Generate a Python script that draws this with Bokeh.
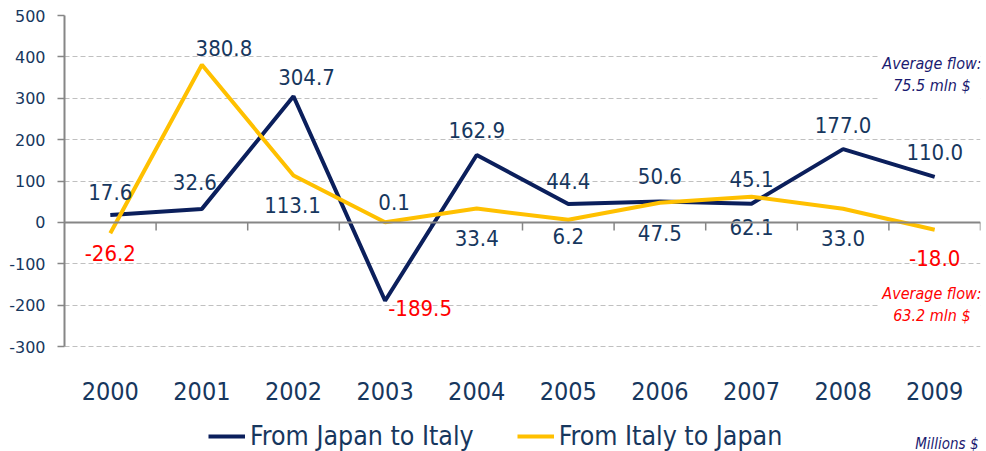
from bokeh.plotting import figure
from bokeh.models import ColumnDataSource, Legend, LegendItem, Label, Span, FactorRange, Range1d, FixedTicker
from bokeh.core.properties import value
from bokeh.embed import file_html
from bokeh.resources import INLINE

# ---------------- data ----------------
years = ["2000", "2001", "2002", "2003", "2004", "2005", "2006", "2007", "2008", "2009"]
japan_to_italy = [17.6, 32.6, 304.7, -189.5, 162.9, 44.4, 50.6, 45.1, 177.0, 110.0]
italy_to_japan = [-26.2, 380.8, 113.1, 0.1, 33.4, 6.2, 47.5, 62.1, 33.0, -18.0]
y_ticks = [-300, -200, -100, 0, 100, 200, 300, 400, 500]
y_tick_labels = [str(t) for t in y_ticks]
avg_japan_to_italy = 75.5
avg_italy_to_japan = 63.2
series_names = ["From Japan to Italy", "From Italy to Japan"]
unit_note = "Millions $"

# label offsets (pixels) -- placement only
ji_dx = [0, -7, 13, 35, 0, 0, 0, 0, 0, 0]
ji_dy = [-23, -27, -19, 7, -25, -23, -25, -25, -24, -25]
ij_dx = [0, 22, -1, 9, 0, 0, 0, 0, 0, 0]
ij_dy = [20, -17, 29, -20, 29, 16, 30, 30, 29, 28]

NAVY = "#0b1f5c"
YELLOW = "#ffc000"
TXT = "#17375e"
RED = "#ff0000"
NOTE = "#1a1a70"
GRAY = "#868686"
COND = "DejaVu Sans Condensed, DejaVu Sans"

# layout: value axis occupies 331 px; the frame continues 105 px below it
AXIS_PX = 331
BELOW_PX = 105
y_span = y_ticks[-1] - y_ticks[0]
y_bottom = y_ticks[0] - y_span / AXIS_PX * BELOW_PX

p = figure(frame_width=916, frame_height=AXIS_PX + BELOW_PX,
           x_range=FactorRange(*years, range_padding=0),
           y_range=Range1d(y_bottom, y_ticks[-1]),
           output_backend="svg", toolbar_location=None,
           min_border_left=64, min_border_right=6, min_border_top=15, min_border_bottom=0)
p.outline_line_color = None
p.background_fill_color = "white"

# grid
p.xgrid.grid_line_color = None
p.ygrid.ticker = FixedTicker(ticks=y_ticks)
p.ygrid.grid_line_color = "#c0c0c0"
p.ygrid.grid_line_dash = "5 3"
p.ygrid.grid_line_width = 1

# y axis
p.yaxis.ticker = FixedTicker(ticks=y_ticks)
p.yaxis.bounds = (y_ticks[0], y_ticks[-1])
p.yaxis.major_label_overrides = dict(zip(y_ticks, y_tick_labels))
p.yaxis.axis_line_color = GRAY
p.yaxis.axis_line_width = 2
p.yaxis.major_tick_line_color = GRAY
p.yaxis.major_tick_line_width = 1.5
p.yaxis.major_tick_out = 7
p.yaxis.major_tick_in = 0
p.yaxis.minor_tick_line_color = None
p.yaxis.major_label_standoff = 12
p.yaxis.major_label_text_font = "DejaVu Sans"
p.yaxis.major_label_text_font_size = "16px"
p.yaxis.major_label_text_color = TXT

# category labels are drawn inside the extended frame
p.xaxis.visible = False
p.text(x=years, y=[y_ticks[0]] * len(years), text=years, y_offset=44,
       text_align="center", text_baseline="middle", text_color=TXT,
       text_font=value(COND), text_font_size="25px")

# zero line with category boundary ticks
p.add_layout(Span(location=0, dimension="width", line_color=GRAY, line_width=2))
boundaries = [i + 1 for i in range(len(years))]
p.ray(x=boundaries, y=[0] * len(boundaries), length=8, length_units="screen",
      angle=-1.5707963, line_color=GRAY, line_width=1.5)

# lines
r1 = p.line(years, japan_to_italy, line_color=NAVY, line_width=4)
r2 = p.line(years, italy_to_japan, line_color=YELLOW, line_width=4)

# data labels
def lab_source(vals, dx, dy):
    return ColumnDataSource(dict(
        x=years, y=vals, text=[f"{v:.1f}" for v in vals],
        color=[RED if v < 0 else TXT for v in vals], dx=dx, dy=dy))

for vals, dx, dy in [(japan_to_italy, ji_dx, ji_dy), (italy_to_japan, ij_dx, ij_dy)]:
    p.text(x="x", y="y", text="text", x_offset="dx", y_offset="dy", source=lab_source(vals, dx, dy),
           text_color="color", text_align="center", text_baseline="middle",
           text_font=value(COND), text_font_size="22px")

# average flow notes
note_x = len(years) - 0.5 - 0.03
p.add_layout(Label(x=note_x, y=357, text=f"Average flow:\n{avg_japan_to_italy} mln $",
                   text_align="center", text_baseline="middle", text_font=COND,
                   text_font_style="italic", text_font_size="16px", text_line_height=1.15,
                   text_color=NOTE, background_fill_color="white", padding=4))
p.add_layout(Label(x=note_x, y=-199, text=f"Average flow:\n{avg_italy_to_japan} mln $",
                   text_align="center", text_baseline="middle", text_font=COND,
                   text_font_style="italic", text_font_size="16px", text_line_height=1.15,
                   text_color=RED, background_fill_color="white", padding=4))

# unit note
p.add_layout(Label(x=914, y=8, x_units="screen", y_units="screen", text=unit_note,
                   text_align="right", text_baseline="middle", text_font=COND,
                   text_font_style="italic", text_font_size="15px", text_color=NOTE))

# legend
legend = Legend(items=[LegendItem(label=series_names[0], renderers=[r1]),
                       LegendItem(label=series_names[1], renderers=[r2])],
                orientation="horizontal", location=(144, 0),
                label_text_font=COND, label_text_font_size="26.5px", label_text_color=TXT,
                glyph_width=37, label_standoff=5, spacing=43, padding=0, margin=0,
                border_line_alpha=0, background_fill_alpha=0)
p.add_layout(legend)

open("out.html", "w").write(file_html(p, INLINE))
